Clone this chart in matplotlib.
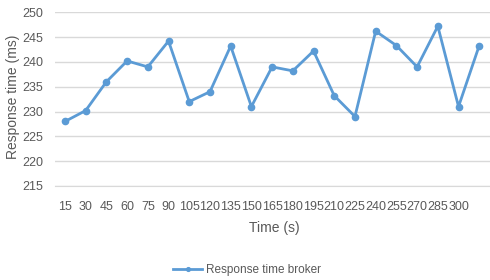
import matplotlib
matplotlib.use("Agg")
import matplotlib.pyplot as plt

times = [15, 30, 45, 60, 75, 90, 105, 120, 135, 150, 165, 180, 195, 210, 225, 240, 255, 270, 285, 300, ""]
response = [228, 230.2, 236, 240.2, 239, 244.2, 232, 234, 243.2, 231, 239, 238.2, 242.2,
            233.2, 229, 246.2, 243.3, 239, 247.2, 231, 243.3]
yticks = [215, 220, 225, 230, 235, 240, 245, 250]

plt.rcParams['font.family'] = ['Liberation Sans', 'DejaVu Sans']
W, H = 490, 280
fig = plt.figure(figsize=(W / 100, H / 100), dpi=100)
ax = fig.add_axes([54.6 / W, (H - 186) / H, 435 / W, (186 - 12.3) / H])

blue = '#5B9BD5'
gray = '#595959'
x = list(range(len(response)))
ax.plot(x, response, color=blue, lw=2.0, marker='o', ms=4.5, label='Response time broker')

ax.set_xlim(-0.5, len(response) - 0.5)
ax.set_ylim(215, 250)
ax.set_yticks(yticks)
ax.set_xticks(x)
ax.set_xticklabels([str(t) for t in times])
ax.grid(axis='y', color='#D9D9D9', lw=1)
ax.set_axisbelow(True)
for s in ['top', 'right', 'left']:
    ax.spines[s].set_visible(False)
ax.spines['bottom'].set_color('#D9D9D9')
ax.tick_params(axis='both', length=0, colors=gray, labelsize=9)
ax.tick_params(axis='x', pad=10.5)
ax.tick_params(axis='y', pad=8)

fig.text(274 / W, 1 - 228 / H, 'Time (s)', ha='center', va='center', color=gray, fontsize=10)
fig.text(13 / W, 1 - 97 / H, 'Response time (ms)', ha='center', va='center', rotation=90,
         color=gray, fontsize=10)

fig.legend(loc='center', bbox_to_anchor=(247 / W, 1 - 270 / H), frameon=False,
           fontsize=8.5, labelcolor=gray, handlelength=2.5, handletextpad=0.3, markerscale=0.6)

fig.savefig('out.png', dpi=100)
